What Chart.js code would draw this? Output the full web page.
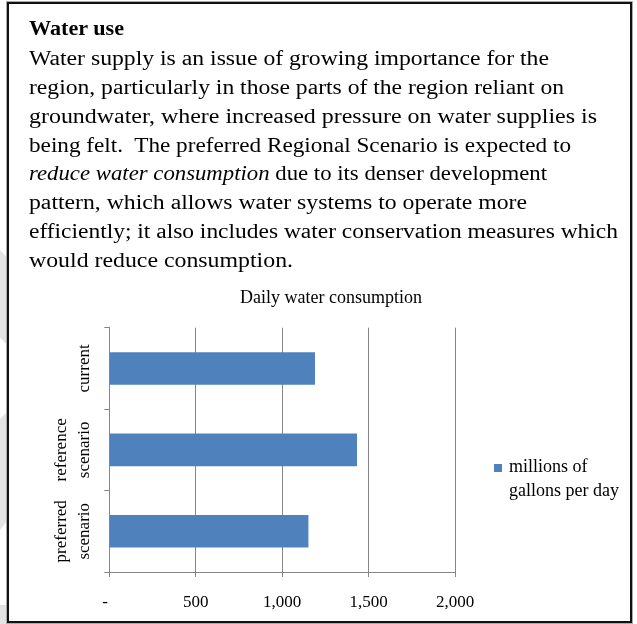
<!DOCTYPE html>
<html>
<head>
<meta charset="utf-8">
<script src="https://cdn.jsdelivr.net/npm/chart.js@4/dist/chart.umd.min.js"></script>
<style>
  html, body { margin: 0; padding: 0; background: #fff; }
  body { width: 637px; height: 624px; position: relative; overflow: hidden; font-family: "Liberation Serif", "Times New Roman", serif; }
  #c { position: absolute; left: 0; top: 0; }
  .frame { position: absolute; left: 7px; top: 2px; width: 621px; height: 617px; border: 2px solid #111; box-shadow: 0 0 0 1px #aaa; pointer-events: none; }
  .ln { position: absolute; left: 29px; font-family: "Liberation Serif", serif; font-size: 20px; line-height: 20px; white-space: pre; color: #000; transform-origin: 0 0; }
  .shade { position: absolute; background: #e3e3e3; }
</style>
</head>
<body>
<div class="shade" style="left:0;top:250px;width:7px;height:95px;clip-path:polygon(0 0,100% 8%,100% 100%,0 92%);"></div>
<div class="shade" style="left:0;top:412px;width:7px;height:118px;clip-path:polygon(0 6%,100% 0,100% 92%,0 100%);"></div>
<div class="shade" style="left:0;top:605px;width:7px;height:19px;"></div>
<div class="shade" style="left:0;top:622px;width:50px;height:2px;"></div>
<div class="shade" style="left:160px;top:622px;width:95px;height:2px;"></div>
<canvas id="c" width="637" height="624"></canvas>
<div class="frame"></div>
<div id="text"></div>
<script>
// ---- data ----
const categories = [['current'], ['reference', 'scenario'], ['preferred', 'scenario']];
const values = [1190, 1433, 1152];
const seriesLabel = ['millions of', 'gallons per day'];
const chartTitle = 'Daily water consumption';
const xMin = 0, xMax = 2000, xStep = 500;

const heading = 'Water use';
const bodyLines = [
  ['Water supply is an issue of growing importance for the'],
  ['region, particularly in those parts of the region reliant on'],
  ['groundwater, where increased pressure on water supplies is'],
  ['being felt.\u00a0 The preferred Regional Scenario is expected to'],
  [{i: 'reduce water consumption'}, ' due to its denser development'],
  ['pattern, which allows water systems to operate more'],
  ['efficiently; it also includes water conservation measures which'],
  ['would reduce consumption.']
];
const lineEnds = [549, 564, 597, 571, 547, 527, 618, 293];
const baselines = [65, 93.8, 122.6, 151.4, 180.2, 209, 237.8, 266.6];

// ---- text block ----
const textRoot = document.getElementById('text');
function addLine(parts, baseline, end, bold) {
  const d = document.createElement('div');
  d.className = 'ln';
  d.style.top = (baseline - 16.75) + 'px';
  if (bold) d.style.fontWeight = 'bold';
  parts.forEach(p => {
    if (typeof p === 'string') d.appendChild(document.createTextNode(p));
    else { const s = document.createElement('i'); s.textContent = p.i; d.appendChild(s); }
  });
  textRoot.appendChild(d);
  const w = d.getBoundingClientRect().width;
  const target = end - 29;
  d.style.transform = 'scaleX(' + (target / w).toFixed(4) + ')';
}
addLine([heading], 35, 124, true);
bodyLines.forEach((p, i) => addLine(p, baselines[i], lineEnds[i], false));

// ---- chart ----
const FONT = '"Liberation Serif", serif';
const AXIS = '#868686';

const decor = {
  id: 'decor',
  afterDraw(chart) {
    const ctx = chart.ctx;
    const ca = chart.chartArea;
    const ys = chart.scales.y;
    ctx.save();
    ctx.fillStyle = '#000';
    // title
    ctx.font = '18px ' + FONT;
    ctx.textAlign = 'center';
    ctx.textBaseline = 'alphabetic';
    ctx.fillText(chartTitle, 331, ca.top - 24.5);
    // category labels (rotated)
    ctx.font = '17px ' + FONT;
    chart.data.labels.forEach((lab, i) => {
      const lines = Array.isArray(lab) ? lab : [lab];
      const py = ys.getPixelForTick(i);
      ctx.save();
      ctx.translate(ca.left - 20, py);
      ctx.rotate(-Math.PI / 2);
      ctx.textAlign = 'center';
      lines.forEach((t, k) => ctx.fillText(t, 0, -23 * (lines.length - 1 - k)));
      ctx.restore();
    });
    // legend
    const ds = chart.data.datasets[0];
    ctx.fillStyle = ds.backgroundColor;
    ctx.fillRect(ca.right + 39, 464, 8, 8);
    ctx.fillStyle = '#000';
    ctx.font = '18px ' + FONT;
    ctx.textAlign = 'left';
    const lbl = Array.isArray(ds.label) ? ds.label : [ds.label];
    lbl.forEach((t, k) => ctx.fillText(t, ca.right + 54, 472 + 23.5 * k));
    ctx.restore();
  }
};

new Chart(document.getElementById('c'), {
  type: 'bar',
  data: {
    labels: categories,
    datasets: [{
      label: seriesLabel,
      data: values,
      backgroundColor: '#4f81bd',
      borderWidth: 0,
      barPercentage: 0.4,
      categoryPercentage: 1.0
    }]
  },
  options: {
    indexAxis: 'y',
    responsive: false,
    animation: false,
    devicePixelRatio: 1,
    layout: { padding: { top: 327.7, left: 104.3, right: 182, bottom: 0 } },
    plugins: { legend: { display: false }, title: { display: false }, tooltip: { enabled: false } },
    scales: {
      x: {
        min: xMin, max: xMax,
        afterFit(s) { s.height = 52; },
        grid: { color: AXIS, lineWidth: 1, drawTicks: true, tickLength: 5 },
        border: { color: AXIS, width: 1 },
        ticks: {
          stepSize: xStep,
          color: '#000',
          padding: 15,
          font: { family: FONT, size: 17 },
          callback: v => v === 0 ? '-  ' : v.toLocaleString('en-US')
        }
      },
      y: {
        afterFit(s) { s.width = 5; },
        grid: { color: AXIS, drawOnChartArea: false, drawTicks: true, tickLength: 5, offset: true },
        border: { color: AXIS, width: 1 },
        ticks: { display: false }
      }
    }
  },
  plugins: [decor]
});
</script>
</body>
</html>
